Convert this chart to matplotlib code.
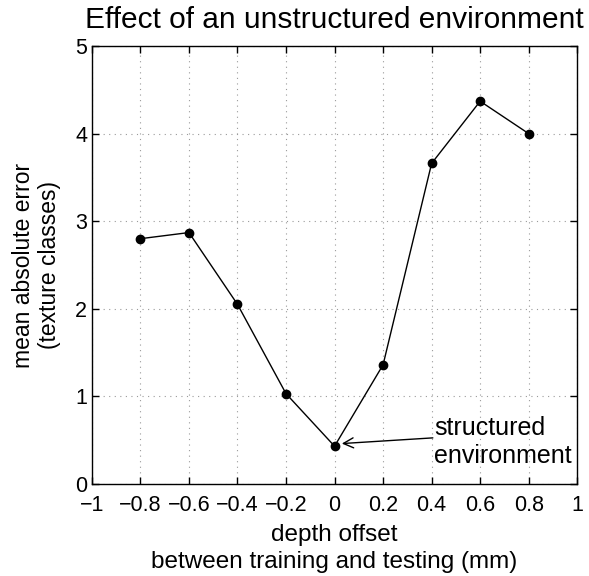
import matplotlib
matplotlib.use('Agg')
from matplotlib import pyplot as plt

# data
depth_offset = [-0.8, -0.6, -0.4, -0.2, 0.0, 0.2, 0.4, 0.6, 0.8]
mean_abs_error = [2.80, 2.87, 2.05, 1.03, 0.43, 1.36, 3.66, 4.37, 4.00]
x_ticks = [-1, -0.8, -0.6, -0.4, -0.2, 0, 0.2, 0.4, 0.6, 0.8, 1]
x_tick_labels = ['\u22121', '\u22120.8', '\u22120.6', '\u22120.4', '\u22120.2', '0',
                 '0.2', '0.4', '0.6', '0.8', '1']
y_ticks = [0, 1, 2, 3, 4, 5]

plt.rcParams['font.family'] = ['Liberation Sans', 'DejaVu Sans']

fig = plt.figure(figsize=(5.89, 5.76), dpi=100)
ax = fig.add_axes([0.156, 0.160, 0.824, 0.760])

ax.plot(depth_offset, mean_abs_error, color='black', linewidth=1.0,
        marker='o', markersize=6, markerfacecolor='black', markeredgecolor='black')

ax.set_xlim(-1, 1)
ax.set_ylim(0, 5)
ax.set_xticks(x_ticks)
ax.set_xticklabels(x_tick_labels)
ax.set_yticks(y_ticks)
ax.tick_params(direction='in', top=True, right=True, labelsize=15.5, length=5, width=1)
ax.tick_params(axis='x', pad=8)
ax.grid(True, linestyle=(0, (1, 4)), color='#9a9a9a', linewidth=0.8)
for s in ax.spines.values():
    s.set_linewidth(1.0)

ax.set_title('Effect of an unstructured environment', fontsize=21.5, pad=13)
ax.set_xlabel('depth offset\nbetween training and testing (mm)', fontsize=17.5,
              labelpad=6, linespacing=1.25)
ax.set_ylabel('mean absolute error\n(texture classes)', fontsize=16.5, labelpad=10,
              linespacing=1.15)

ax.text(0.41, 0.24, 'structured\nenvironment', fontsize=18, va='baseline', ha='left',
        linespacing=1.2)
ax.annotate('', xy=(0.03, 0.46), xytext=(0.405, 0.525),
            arrowprops=dict(arrowstyle='->', color='black', lw=1.0,
                            mutation_scale=18, shrinkA=0, shrinkB=0))

fig.savefig('out.png', dpi=100)
